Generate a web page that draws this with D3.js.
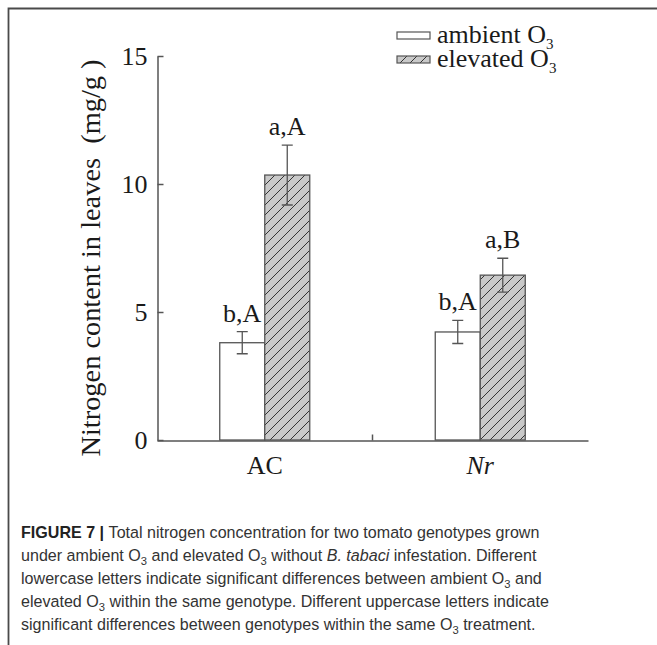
<!DOCTYPE html>
<html>
<head>
<meta charset="utf-8">
<script src="https://cdn.jsdelivr.net/npm/d3@7"></script>
<style>
  body { margin: 0; background: #fff; }
  svg { display: block; }
</style>
</head>
<body>
<svg id="chart" width="657" height="645"></svg>
<script>
// data
var genotypes = ["AC", "Nr"];
var treatments = ["ambient O", "elevated O"];
var ambientMeans = [3.8, 4.22];
var ambientErr = [0.43, 0.45];
var elevatedMeans = [10.35, 6.44];
var elevatedErr = [1.17, 0.66];
var ambientLetters = ["b,A", "b,A"];
var elevatedLetters = ["a,A", "a,B"];
var yTicks = [0, 5, 10, 15];

var svg = d3.select("#chart");
var serif = "'Liberation Serif', 'Times New Roman', serif";
var ink = "#1a1a1a";
var axisCol = "#555";

// hatch for elevated bars
var defs = svg.append("defs");
var pat = defs.append("pattern")
  .attr("id", "hatch")
  .attr("patternUnits", "userSpaceOnUse")
  .attr("width", 10).attr("height", 10);
pat.append("rect").attr("width", 10).attr("height", 10).attr("fill", "#c9c9c9");
pat.append("path")
  .attr("d", "M0,10 L10,0 M-2.5,2.5 L2.5,-2.5 M7.5,12.5 L12.5,7.5")
  .attr("stroke", "#333").attr("stroke-width", 1);

// frame around the figure
svg.append("path")
  .attr("d", "M8.5,645 V8.5 H657")
  .attr("fill", "none").attr("stroke", "#4a4a4a").attr("stroke-width", 1.8);

// scales
var x = d3.scaleBand().domain(genotypes).range([157, 588]);
var y = d3.scaleLinear().domain([0, 15]).range([440, 56]);
var barW = 45;

// y axis, ticks point inwards
var yAxis = d3.axisLeft(y).tickValues(yTicks).tickSizeInner(-6).tickSizeOuter(0).tickPadding(10);
var gy = svg.append("g").attr("transform", "translate(157.5,0)").call(yAxis);
gy.selectAll("path, line").attr("stroke", axisCol).attr("stroke-width", 1.5);
gy.selectAll("text").attr("font-family", serif).attr("font-size", 26).attr("fill", ink);

// x axis
var xAxis = d3.axisBottom(x).tickSize(0).tickPadding(15);
var gx = svg.append("g").attr("transform", "translate(0,440.5)").call(xAxis);
gx.select(".domain").attr("stroke", axisCol).attr("stroke-width", 1.5);
gx.selectAll("text").attr("font-family", serif).attr("font-size", 26).attr("fill", ink)
  .attr("font-style", function (d) { return d === "Nr" ? "italic" : null; });
// small tick between the two groups
var mid = x.range()[0] + x.step();
gx.append("line").attr("x1", mid).attr("x2", mid).attr("y1", 0).attr("y2", -6)
  .attr("stroke", axisCol).attr("stroke-width", 1.5);

// bars
var cx = function (g) { return x(g) + x.bandwidth() / 2; };

function drawSeries(means, errs, letters, offset, fill) {
  var g = svg.append("g");
  g.selectAll("rect").data(genotypes).enter().append("rect")
    .attr("x", function (d) { return cx(d) + offset; })
    .attr("y", function (d, i) { return y(means[i]); })
    .attr("width", barW)
    .attr("height", function (d, i) { return y(0) - y(means[i]); })
    .attr("fill", fill).attr("stroke", axisCol).attr("stroke-width", 1.3);

  // error bars
  g.selectAll("path.err").data(genotypes).enter().append("path")
    .attr("class", "err")
    .attr("d", function (d, i) {
      var xm = cx(d) + offset + barW / 2;
      var t = y(means[i] + errs[i]), b = y(means[i] - errs[i]);
      return "M" + (xm - 5.5) + "," + t + "H" + (xm + 5.5) +
        "M" + xm + "," + t + "V" + b +
        "M" + (xm - 5.5) + "," + b + "H" + (xm + 5.5);
    })
    .attr("fill", "none").attr("stroke", axisCol).attr("stroke-width", 1.3);

  g.selectAll("text").data(genotypes).enter().append("text")
    .attr("x", function (d) { return cx(d) + offset + barW / 2; })
    .attr("y", function (d, i) { return y(means[i] + errs[i]) - 10; })
    .attr("text-anchor", "middle")
    .attr("font-family", serif).attr("font-size", 26).attr("fill", ink)
    .text(function (d, i) { return letters[i]; });
}
drawSeries(ambientMeans, ambientErr, ambientLetters, -barW, "#fff");
drawSeries(elevatedMeans, elevatedErr, elevatedLetters, 0, "url(#hatch)");

// legend
var legend = svg.append("g");
var legFills = ["#fff", "url(#hatch)"];
treatments.forEach(function (t, i) {
  var row = legend.append("g").attr("transform", "translate(397," + (32 + i * 24) + ")");
  row.append("rect").attr("width", 33).attr("height", 7)
    .attr("fill", legFills[i]).attr("stroke", axisCol).attr("stroke-width", 1.2);
  var tx = row.append("text").attr("x", 40).attr("y", 11)
    .attr("font-family", serif).attr("font-size", 26).attr("fill", ink)
    .text(t);
  tx.append("tspan").attr("dy", 6).attr("font-size", 15).text("3");
});

// y axis title
svg.append("text")
  .attr("transform", "translate(100,258) rotate(-90)")
  .attr("text-anchor", "middle")
  .attr("font-family", serif).attr("font-size", 27).attr("fill", ink)
  .attr("textLength", 397).attr("lengthAdjust", "spacingAndGlyphs")
  .text("Nitrogen content in leaves\u00a0\u00a0(mg/g )");

// caption
var sans = "'Liberation Sans', Arial, sans-serif";
var captionLines = [
  [["FIGURE 7 | ", "b"], ["Total nitrogen concentration for two tomato genotypes grown"]],
  [["under ambient O"], ["3", "s"], [" and elevated O"], ["3", "s"], [" without "], ["B. tabaci", "i"], [" infestation. Different"]],
  [["lowercase letters indicate significant differences between ambient O"], ["3", "s"], [" and"]],
  [["elevated O"], ["3", "s"], [" within the same genotype. Different uppercase letters indicate"]],
  [["significant differences between genotypes within the same O"], ["3", "s"], [" treatment."]]
];
var cap = svg.append("g");
var capNodes = captionLines.map(function (segs, li) {
  var t = cap.append("text")
    .attr("font-family", sans).attr("font-size", 16.5).attr("fill", "#333");
  segs.forEach(function (s) {
    var ts = t.append("tspan").text(s[0]);
    if (s[1] === "b") ts.attr("font-weight", "bold").attr("fill", "#222");
    if (s[1] === "i") ts.attr("font-style", "italic");
    if (s[1] === "s") { ts.attr("font-size", 11.5).attr("dy", 4); }
  });
  // restore baseline after subscripts
  t.selectAll("tspan").each(function (d, k) {
    var prev = segs[k - 1];
    if (k > 0 && prev[1] === "s" && segs[k][1] !== "s") d3.select(this).attr("dy", -4);
  });
  return { sel: t, y: 538 + li * 23 };
});
var w0 = capNodes[0].sel.node().getComputedTextLength();
var k = (540 - 21) / w0;
capNodes.forEach(function (c) {
  c.sel.attr("transform", "translate(21," + c.y + ") scale(" + k + ",1)");
});
</script>
</body>
</html>
